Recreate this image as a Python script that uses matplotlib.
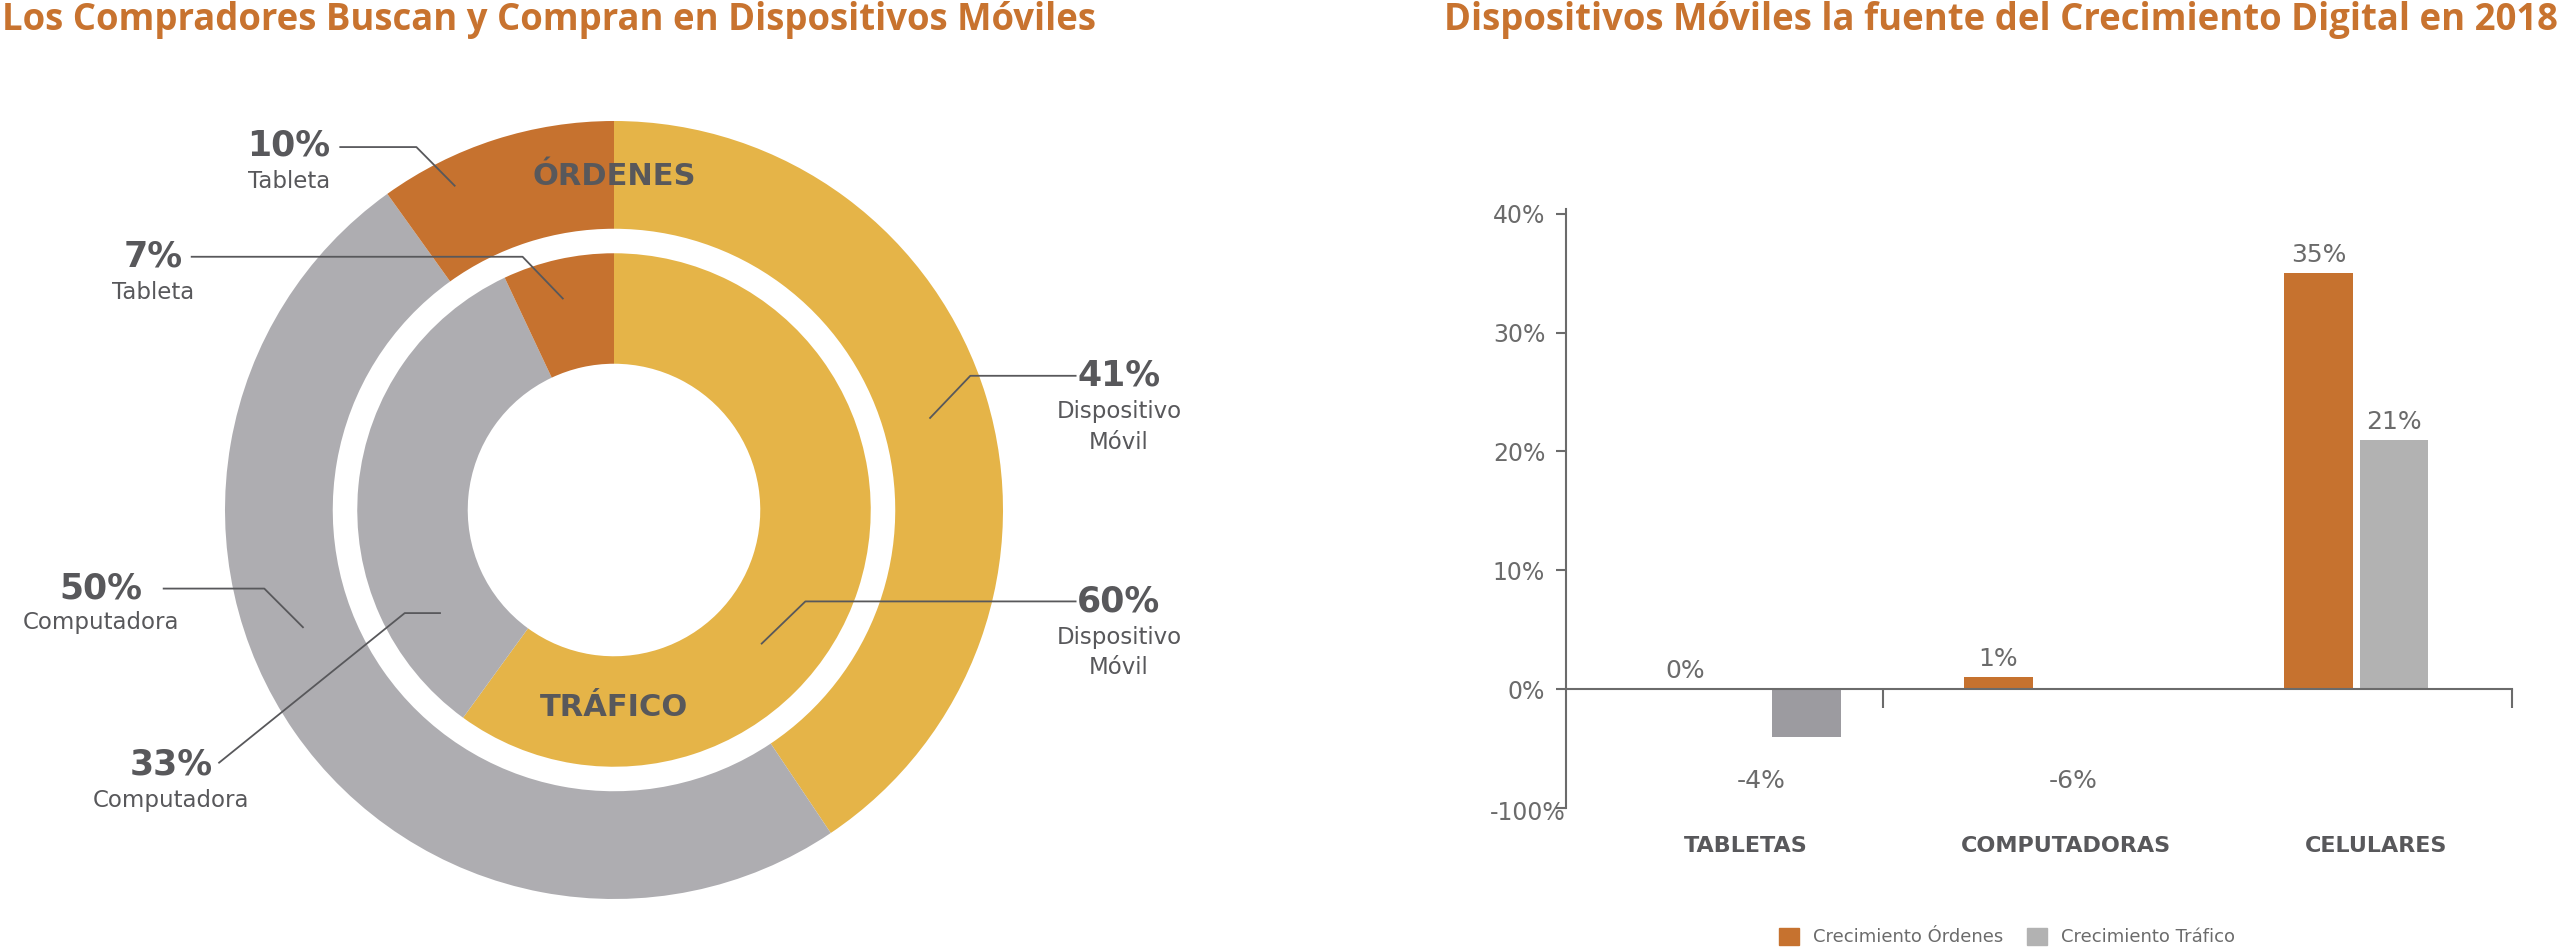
import numpy as np
import matplotlib
matplotlib.use("Agg")
import matplotlib.pyplot as plt
import matplotlib.transforms as mtransforms
from matplotlib.patches import Patch

# ---- datos ----
donut_orders_labels = ["Dispositivo\nMóvil", "Computadora", "Tableta"]
donut_orders = [41, 50, 10]
donut_traffic_labels = ["Dispositivo\nMóvil", "Computadora", "Tableta"]
donut_traffic = [60, 33, 7]

categories = ["TABLETAS", "COMPUTADORAS", "CELULARES"]
growth_orders = [0, 1, 35]
growth_traffic = [-4, -6, 21]
ytick_vals = [-10, 0, 10, 20, 30, 40]
ytick_labels = ["-100%", "0%", "10%", "20%", "30%", "40%"]

ORANGE = "#C6722F"
YELLOW = "#E5B448"
GRAY = "#AEADB1"
BAR_GRAY = "#B2B2B2"
BAR_GRAY_DARK = "#9C9BA0"
TEXT = "#58585B"
TICK = "#6B6B6B"
TITLE = "#C8732F"

plt.rcParams["font.family"] = ["DejaVu Sans"]

W, H = 2560, 950
fig = plt.figure(figsize=(W / 100, H / 100), dpi=100)

# ---- títulos ----
fig.text(2 / W, 1 - 20 / H, "Los Compradores Buscan y Compran en Dispositivos Móviles",
         family="Open Sans", weight="bold", fontsize=26.3, color=TITLE,
         ha="left", va="center")
fig.text(1 - 2 / W, 1 - 20 / H, "Dispositivos Móviles la fuente del Crecimiento Digital en 2018",
         family="Open Sans", weight="bold", fontsize=26.3, color=TITLE,
         ha="right", va="center")

# ---- donut ----
R = 389.0               # radio exterior en px
cx, cy = 614.0, 440.0   # centro (desde abajo)
axd = fig.add_axes([0, 0, 2 * cx / W, 1])
axd.pie(donut_orders, colors=[YELLOW, GRAY, ORANGE], radius=1.0, startangle=90,
        counterclock=False, wedgeprops=dict(width=0.277, edgecolor="none"))
axd.pie(donut_traffic, colors=[YELLOW, GRAY, ORANGE], radius=0.66, startangle=90,
        counterclock=False, wedgeprops=dict(width=0.284, edgecolor="none"))
axd.set_xlim(-cx / R, cx / R)
axd.set_ylim(-cy / R, (H - cy) / R)
axd.set_aspect("equal")
axd.axis("off")

axd.text(0, 0.857, "ÓRDENES", ha="center", va="center", fontsize=22,
         weight="bold", color=TEXT)
axd.text(0, -0.508, "TRÁFICO", ha="center", va="center", fontsize=22,
         weight="bold", color=TEXT)

# etiquetas: (pct, sub, x, y_pct, y_sub, línea guía)
callouts = [
    (donut_orders[2], donut_orders_labels[2], -0.836, 0.937, 0.845,
     [(-0.706, 0.933), (-0.508, 0.933), (-0.408, 0.832)]),
    (donut_traffic[2], donut_traffic_labels[2], -1.185, 0.651, 0.560,
     [(-1.088, 0.651), (-0.235, 0.651), (-0.130, 0.542)]),
    (donut_orders[1], donut_orders_labels[1], -1.319, -0.202, -0.289,
     [(-1.160, -0.202), (-0.899, -0.202), (-0.798, -0.303)]),
    (donut_traffic[1], donut_traffic_labels[1], -1.139, -0.655, -0.747,
     [(-1.017, -0.651), (-0.538, -0.265), (-0.445, -0.265)]),
    (donut_orders[0], donut_orders_labels[0], 1.298, 0.345, 0.252,
     [(1.189, 0.345), (0.916, 0.345), (0.811, 0.235)]),
    (donut_traffic[0], donut_traffic_labels[0], 1.298, -0.235, -0.327,
     [(1.189, -0.235), (0.492, -0.235), (0.378, -0.345)]),
]
for pct, sub, x, yp, ys, line in callouts:
    axd.text(x, yp, f"{pct}%", ha="center", va="center", fontsize=25,
             weight="bold", color=TEXT)
    for k, part in enumerate(sub.split("\n")):
        axd.text(x, ys - k * 0.078, part, ha="center", va="center",
                 fontsize=16.5, color=TEXT)
    lx, ly = zip(*line)
    axd.plot(lx, ly, color=TEXT, lw=1.3, solid_capstyle="butt")

# ---- barras ----
x0, x1 = 1566, 2512
y_bot, y_top = 142, 741
axb = fig.add_axes([x0 / W, y_bot / H, (x1 - x0) / W, (y_top - y_bot) / H])
group_pos = np.array([0.03, 0.94, 2.03])
cat_label_pos = [-0.048, 1.04, 2.096]
label_dx = [-0.155, 0.0, 0.0]
w, off = 0.233, 0.128
traffic_colors = [BAR_GRAY_DARK, "none", BAR_GRAY]

axb.bar(group_pos - off, growth_orders, width=w, color=ORANGE, zorder=2)
axb.bar(group_pos + off, growth_traffic, width=w, color=traffic_colors, zorder=2)

for i in range(len(categories)):
    for xi, v in ((group_pos[i] - off, growth_orders[i]),
                  (group_pos[i] + off, growth_traffic[i])):
        xi = xi + label_dx[i]
        if v >= 0:
            axb.text(xi, v + 0.5, f"{v}%", ha="center", va="bottom",
                     fontsize=18, color=TICK)
        else:
            axb.text(xi, -7.7, f"{v}%", ha="center", va="center",
                     fontsize=18, color=TICK)
    axb.text(cat_label_pos[i], -13.2, categories[i], ha="center", va="center",
             fontsize=16, weight="bold", color=TEXT)

axb.set_xlim(-0.66, 2.56)
axb.set_ylim(-10, 40.4)
axb.set_yticks(ytick_vals)
axb.set_yticklabels(ytick_labels)
axb.set_xticks([0.42, 2.56])
axb.set_xticklabels([])
for s in ("top", "right"):
    axb.spines[s].set_visible(False)
axb.spines["bottom"].set_position(("data", 0))
for s in ("left", "bottom"):
    axb.spines[s].set_color(TICK)
    axb.spines[s].set_linewidth(1.5)
axb.tick_params(axis="y", direction="out", length=7, width=1.5, color=TICK,
                labelsize=17, labelcolor=TICK, pad=8)
axb.tick_params(axis="x", direction="out", length=14, width=1.5, color=TICK)
axb.patch.set_visible(False)

# la etiqueta "-100%" del original se monta sobre el eje
lbl = axb.get_yticklabels()[0]
lbl.set_transform(lbl.get_transform() +
                  mtransforms.ScaledTranslation(0.2, -0.02, fig.dpi_scale_trans))

handles = [Patch(color=ORANGE, label="Crecimiento Órdenes"),
           Patch(color=BAR_GRAY, label="Crecimiento Tráfico")]
leg = fig.legend(handles=handles, loc="center", bbox_to_anchor=(2007 / W, 13 / H),
                 ncol=2, frameon=False, fontsize=13, handlelength=1.1,
                 handleheight=1.1, handletextpad=0.8, columnspacing=1.3)
for t in leg.get_texts():
    t.set_color(TICK)

fig.savefig("out.png", dpi=100)
